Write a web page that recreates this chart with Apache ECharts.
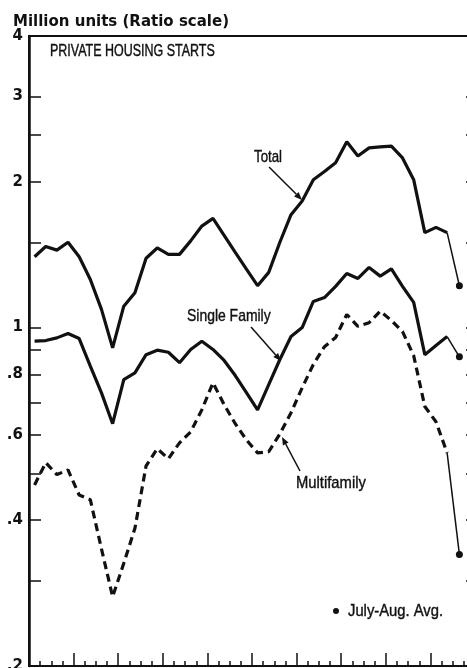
<!DOCTYPE html>
<html>
<head>
<meta charset="utf-8">
<title>Private Housing Starts</title>
<script src="https://cdn.jsdelivr.net/npm/echarts@6/dist/echarts.min.js"></script>
<style>
  html, body { margin: 0; padding: 0; background: #fff; }
  #chart { width: 467px; height: 668px; }
</style>
</head>
<body>
<div id="chart"></div>
<script>
// quarterly, seasonally adjusted annual rates, million units, 1965 Q1 .. 1974 Q2
const startYear = 1965
const totalStarts = [1.40, 1.47, 1.445, 1.50, 1.40, 1.257, 1.09, 0.908, 1.107, 1.18,
  1.39, 1.46, 1.416, 1.416, 1.51, 1.62, 1.68, 1.55, 1.43, 1.32,
  1.22, 1.30, 1.50, 1.71, 1.825, 2.02, 2.10, 2.19, 2.42, 2.26,
  2.35, 2.36, 2.37, 2.24, 2.02, 1.57, 1.61, 1.57]
const singleFamily = [0.937, 0.94, 0.952, 0.972, 0.949, 0.832, 0.733, 0.633, 0.781, 0.806,
  0.879, 0.898, 0.889, 0.846, 0.901, 0.937, 0.901, 0.855, 0.796, 0.734,
  0.676, 0.762, 0.859, 0.958, 1.0, 1.132, 1.153, 1.216, 1.293, 1.263,
  1.331, 1.277, 1.322, 1.216, 1.127, 0.879, 0.918, 0.958]
const multifamily = [0.473, 0.526, 0.497, 0.508, 0.451, 0.441, 0.349, 0.278, 0.326, 0.385,
  0.518, 0.562, 0.536, 0.578, 0.609, 0.676, 0.769, 0.693, 0.633, 0.586,
  0.551, 0.554, 0.603, 0.667, 0.751, 0.839, 0.913, 0.954, 1.064, 1.006,
  1.023, 1.081, 1.034, 0.981, 0.875, 0.687, 0.639, 0.551]
// July-Aug. 1974 average: total, single family, multifamily
const julyAugPos = 1974.65
const julyAugAvg = [1.22, 0.87, 0.34]

const tickValues = [0.2, 0.3, 0.4, 0.5, 0.6, 0.7, 0.8, 0.9, 1, 1.5, 2, 2.5, 3, 4]
const labelValues = [0.2, 0.4, 0.6, 0.8, 1, 2, 3, 4]

const lg = Math.log10
const quarterX = (i) => startYear + (i + 0.5) / 4
const toPoints = (arr) => arr.map((v, i) => [quarterX(i), lg(v)])
const avgLink = (arr, k) => [
  { value: [quarterX(arr.length - 1), lg(arr[arr.length - 1])], symbol: 'none' },
  { value: [julyAugPos, lg(julyAugAvg[k])] }
]

const ink = '#111'
const condensed = '"Liberation Sans", Arial, sans-serif'

function arrow (x1, y1, x2, y2) {
  const a = Math.atan2(y2 - y1, x2 - x1)
  const L = 8
  const W = 3.2
  const bx = x2 - L * Math.cos(a)
  const by = y2 - L * Math.sin(a)
  const px = -Math.sin(a) * W
  const py = Math.cos(a) * W
  return [
    { type: 'line', shape: { x1, y1, x2: bx, y2: by }, style: { stroke: ink, lineWidth: 1.5 } },
    { type: 'polygon', shape: { points: [[x2, y2], [bx + px, by + py], [bx - px, by - py]] }, style: { fill: ink } }
  ]
}

// squeezed Arial-like text, to stand in for the condensed face of the original
function label (text, x, y, size, squeeze) {
  return {
    type: 'text',
    x, y,
    scaleX: squeeze,
    style: {
      text, x: 0, y: 0,
      font: size + 'px ' + condensed,
      fill: ink,
      stroke: ink,
      lineWidth: 0.4,
      textAlign: 'left', align: 'left',
      textVerticalAlign: 'middle', verticalAlign: 'middle'
    }
  }
}

const yAxisBase = {
  type: 'value',
  min: lg(0.2),
  max: lg(4),
  splitLine: { show: false },
  axisLine: { show: true, onZero: false, lineStyle: { color: ink, width: 2.5 } },
  axisTick: {
    show: true,
    inside: true,
    length: 12,
    lineStyle: { color: ink, width: 1.5 },
    customValues: tickValues.map(lg)
  }
}

const chart = echarts.init(document.getElementById('chart'))

chart.setOption({
  animation: false,
  backgroundColor: '#fff',
  grid: {
    left: 29,
    right: -8,
    top: 36,
    bottom: 2,
    show: true,
    borderColor: ink,
    borderWidth: 2,
    outerBoundsMode: 'none'
  },
  xAxis: {
    type: 'value',
    min: 1965,
    max: 1975,
    interval: 1,
    splitLine: { show: false },
    axisLine: { show: true, onZero: false, lineStyle: { color: ink, width: 2 } },
    axisTick: { show: true, inside: true, length: 13, lineStyle: { color: ink, width: 1.5 } },
    minorTick: { show: true, splitNumber: 4, length: 5, lineStyle: { color: ink, width: 1.5 } },
    axisLabel: { show: false }
  },
  yAxis: [
    {
      ...yAxisBase,
      position: 'left',
      axisLabel: {
        show: true,
        margin: 6,
        color: ink,
        fontSize: 15,
        fontWeight: 'bold',
        fontFamily: '"DejaVu Sans", sans-serif',
        customValues: labelValues.map(lg),
        formatter: (v) => {
          const r = Math.pow(10, v)
          return r >= 0.95 ? String(Math.round(r)) : '.' + Math.round(r * 10)
        }
      }
    },
    {
      ...yAxisBase,
      position: 'right',
      axisTick: { ...yAxisBase.axisTick, length: 9 },
      axisLabel: { show: false }
    }
  ],
  series: [
    {
      name: 'Total',
      type: 'line',
      data: toPoints(totalStarts),
      showSymbol: false,
      lineStyle: { color: ink, width: 3.2 }
    },
    {
      name: 'Single Family',
      type: 'line',
      data: toPoints(singleFamily),
      showSymbol: false,
      lineStyle: { color: ink, width: 3.2 }
    },
    {
      name: 'Multifamily',
      type: 'line',
      data: toPoints(multifamily),
      showSymbol: false,
      lineStyle: { color: ink, width: 3.2, type: [8, 5] }
    },
    ...[totalStarts, singleFamily, multifamily].map((arr, k) => ({
      type: 'line',
      data: avgLink(arr, k),
      symbol: 'circle',
      symbolSize: 7,
      itemStyle: { color: ink },
      lineStyle: { color: ink, width: 1.5 }
    }))
  ],
  graphic: [
    {
      type: 'text',
      style: {
        text: 'Million units (Ratio scale)',
        x: 13, y: 22,
        font: 'bold 15px "DejaVu Sans", sans-serif',
        fill: ink,
        textVerticalAlign: 'middle', verticalAlign: 'middle'
      }
    },
    label('PRIVATE HOUSING STARTS', 50, 52, 16, 0.78),
    label('Total', 254, 157, 17, 0.78),
    label('Single Family', 187, 316, 17, 0.82),
    label('Multifamily', 296, 483, 17, 0.87),
    label('July-Aug. Avg.', 348, 611, 17, 0.87),
    { type: 'circle', shape: { cx: 336, cy: 611, r: 3 }, style: { fill: ink } },
    ...arrow(269, 167, 302, 200),
    ...arrow(251, 327, 281, 361),
    ...arrow(300, 471, 282, 437)
  ]
})
</script>
</body>
</html>
